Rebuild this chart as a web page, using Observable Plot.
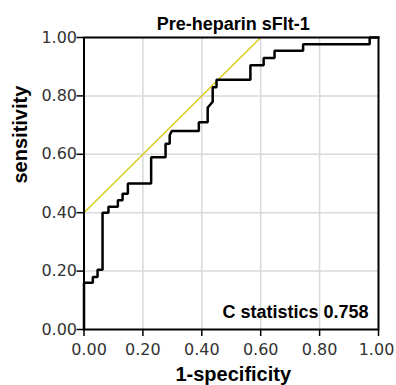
<!DOCTYPE html>
<html>
<head>
<meta charset="utf-8">
<script src="https://cdn.jsdelivr.net/npm/d3@7"></script>
<script src="https://cdn.jsdelivr.net/npm/@observablehq/plot@0.6"></script>
<style>
  html, body { margin: 0; padding: 0; background: #fff; }
  svg { display: block; }
</style>
</head>
<body>
<div id="chart"></div>
<script>
// ROC curve vertices (1-specificity, sensitivity)
const fpr = [0, 0, 0.03, 0.03, 0.046, 0.046, 0.063, 0.063, 0.083, 0.083, 0.115, 0.115, 0.131, 0.131, 0.149, 0.149,
  0.228, 0.228, 0.277, 0.277, 0.291, 0.291, 0.298, 0.39, 0.39, 0.42, 0.42, 0.437, 0.437, 0.45, 0.45,
  0.565, 0.565, 0.61, 0.61, 0.647, 0.647, 0.744, 0.744, 0.97, 0.97, 1.0];
const tpr = [0, 0.16, 0.16, 0.18, 0.18, 0.205, 0.205, 0.40, 0.40, 0.42, 0.42, 0.443, 0.443, 0.465, 0.465, 0.5,
  0.5, 0.59, 0.59, 0.636, 0.636, 0.665, 0.68, 0.68, 0.71, 0.71, 0.76, 0.78, 0.83, 0.83, 0.855,
  0.855, 0.905, 0.905, 0.93, 0.93, 0.955, 0.955, 0.977, 0.977, 1.0, 1.0];
// Reference (yellow) line
const refX = [0, 0.6];
const refY = [0.4, 1.0];
const ticks = [0, 0.2, 0.4, 0.6, 0.8, 1.0];
const title = "Pre-heparin sFlt-1";
const xLabel = "1-specificity";
const yLabel = "sensitivity";
const annotation = "C statistics 0.758";

const roc = fpr.map((x, i) => ({x, y: tpr[i]}));
const ref = refX.map((x, i) => ({x, y: refY[i]}));
const fmt = d3.format(".2f");
const tickFont = "DejaVu Sans, Verdana, sans-serif";
const boldFont = "Liberation Sans, Arial, sans-serif";
const xText = {tickSize: 0, tickPadding: 14, tickFormat: fmt, fontSize: 16, fontFamily: tickFont, fill: "#333", label: null};

const chart = Plot.plot({
  width: 396,
  height: 385,
  marginLeft: 83.5,
  marginRight: 18,
  marginTop: 37,
  marginBottom: 56,
  style: {background: "#fff", overflow: "visible"},
  x: {domain: [0, 1]},
  y: {domain: [0, 1]},
  marks: [
    Plot.gridX([0.2, 0.4, 0.6, 0.8], {stroke: "#d9d9d9", strokeOpacity: 1, strokeWidth: 1.5}),
    Plot.gridY([0.2, 0.4, 0.6, 0.8], {stroke: "#d9d9d9", strokeOpacity: 1, strokeWidth: 1.5}),
    Plot.line(ref, {x: "x", y: "y", stroke: "#d8cc1c", strokeWidth: 1.5}),
    Plot.line(roc, {x: "x", y: "y", stroke: "#000", strokeWidth: 2.5, strokeLinejoin: "miter"}),
    Plot.frame({stroke: "#000", strokeWidth: 2}),
    Plot.axisY(ticks, {tickSize: 7, tickPadding: 0, tickFormat: fmt, fontSize: 16, fontFamily: tickFont, fill: "#333", stroke: "#000", strokeWidth: 1.5, label: null}),
    Plot.axisX(ticks, {tickSize: 7, tickFormat: () => "", stroke: "#000", strokeWidth: 1.5, label: null}),
    Plot.axisX([0], {...xText, dx: 5}),
    Plot.axisX([0.2, 0.4, 0.6, 0.8], xText),
    Plot.axisX([1.0], {...xText, dx: -2}),
    Plot.text([title], {frameAnchor: "top", lineAnchor: "middle", dx: 2, dy: -13, fontSize: 18, fontWeight: "bold", fontFamily: boldFont, fill: "#000"}),
    Plot.text([annotation], {frameAnchor: "bottom-right", lineAnchor: "middle", textAnchor: "end", dx: -10, dy: -17, fontSize: 18, fontWeight: "bold", fontFamily: boldFont, fill: "#000"}),
    Plot.text([xLabel], {frameAnchor: "bottom", lineAnchor: "middle", dx: 2, dy: 45.5, fontSize: 20, fontWeight: "bold", fontFamily: boldFont, fill: "#000"}),
    Plot.text([yLabel], {frameAnchor: "left", lineAnchor: "middle", dx: -63, dy: 0, rotate: -90, fontSize: 20, fontWeight: "bold", fontFamily: boldFont, fill: "#000"})
  ]
});
document.getElementById("chart").appendChild(chart);
</script>
</body>
</html>
